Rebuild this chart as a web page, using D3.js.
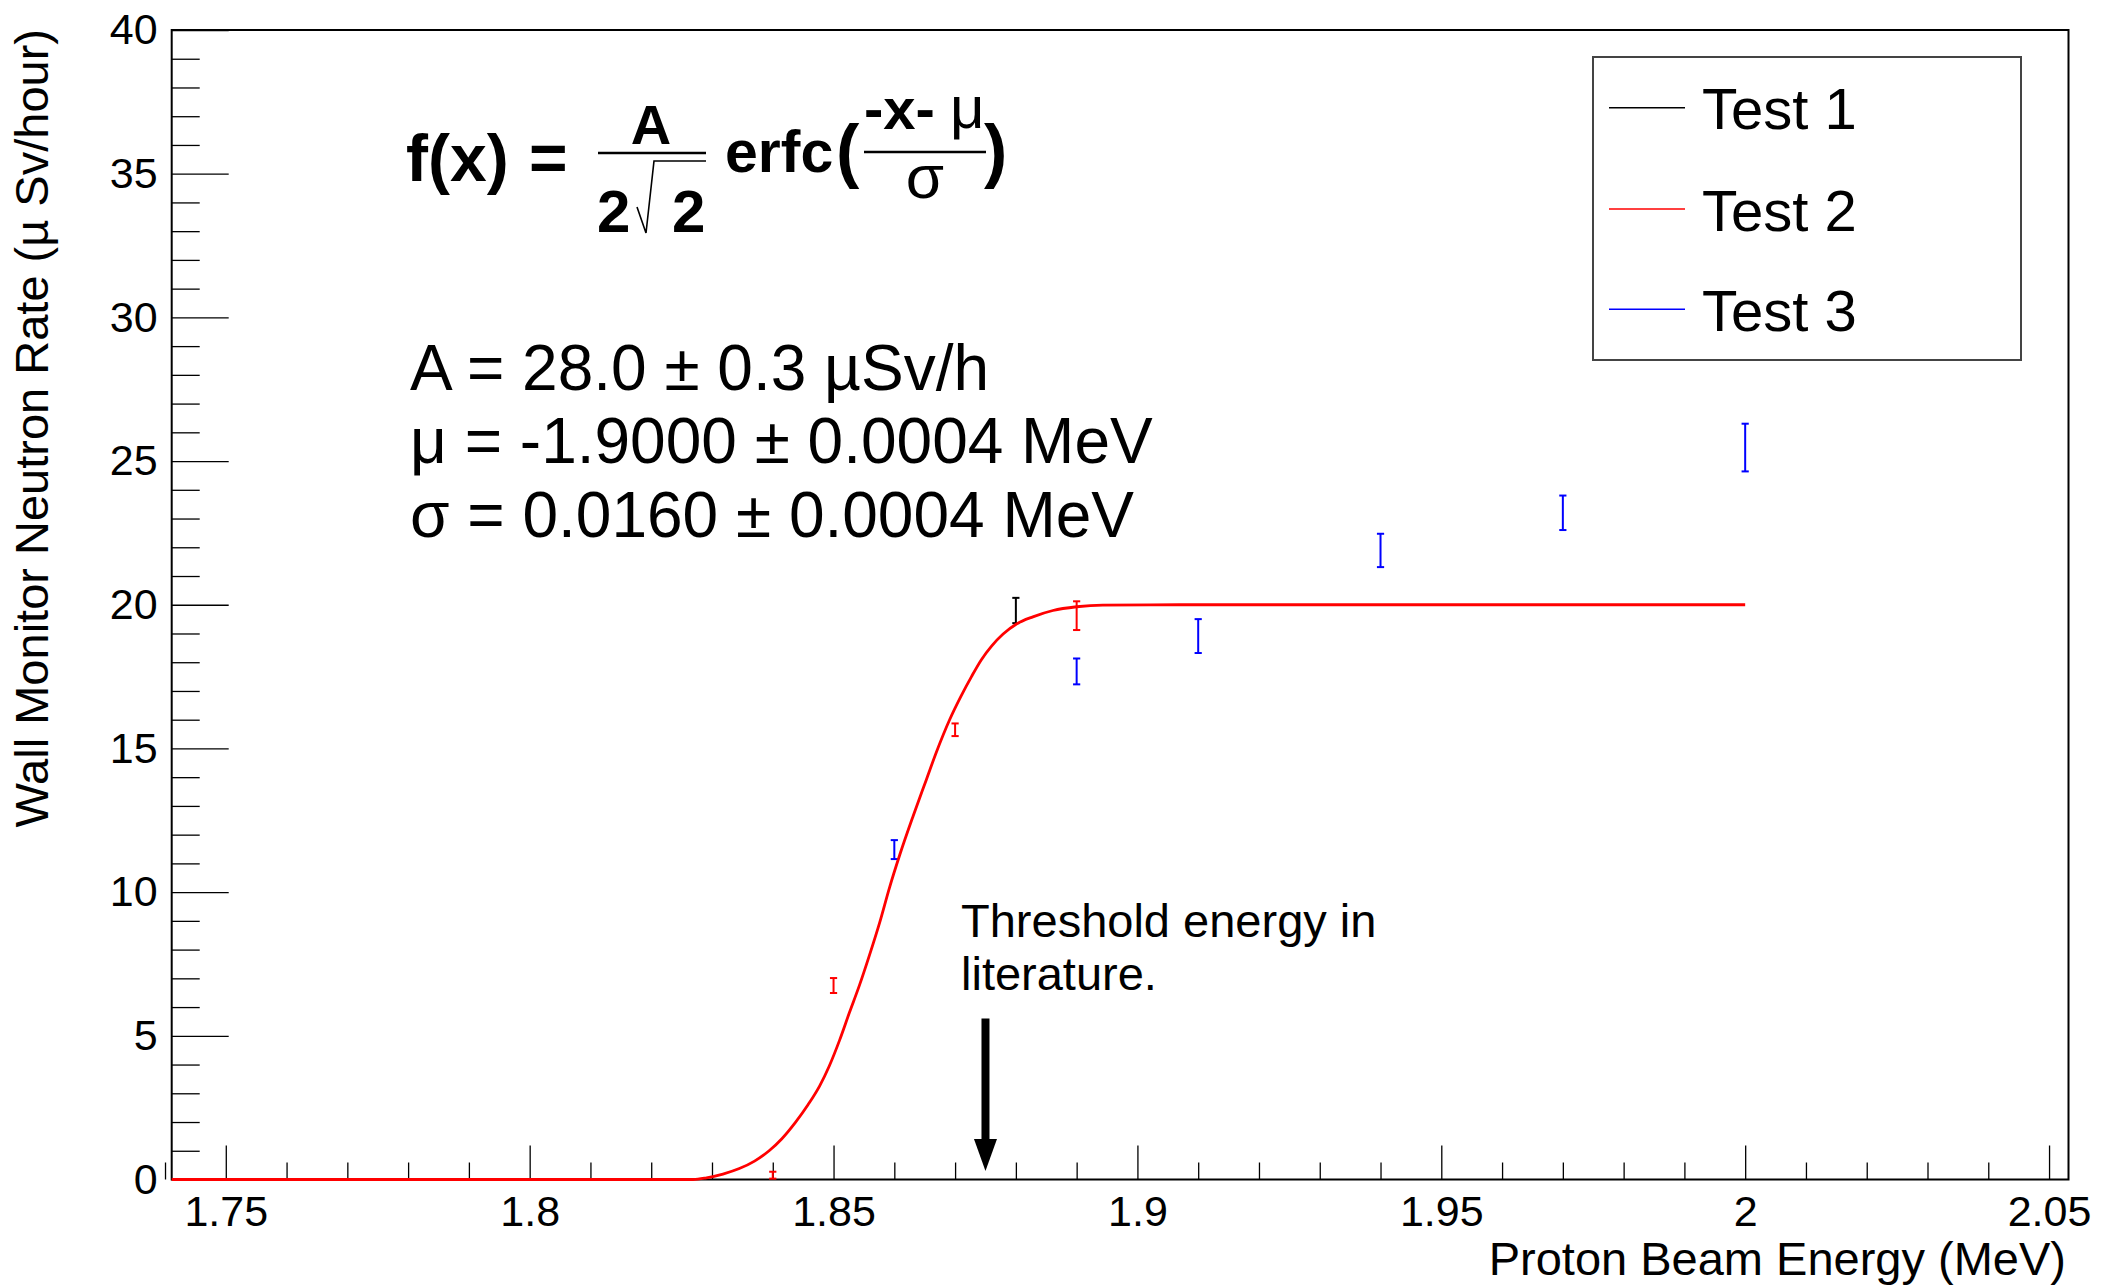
<!DOCTYPE html>
<html>
<head>
<meta charset="utf-8">
<script src="https://cdn.jsdelivr.net/npm/d3@7"></script>
<style>
  html, body { margin: 0; padding: 0; background: #fff; }
  svg { display: block; }
  text { font-family: "Liberation Sans", Arial, sans-serif; }
</style>
</head>
<body>
<svg id="chart" width="2106" height="1287"></svg>
<script>
// ---------------- data ----------------
const xTickValues = [1.75, 1.8, 1.85, 1.9, 1.95, 2.0, 2.05];
const xTickLabels = ["1.75", "1.8", "1.85", "1.9", "1.95", "2", "2.05"];
const yTickValues = [0, 5, 10, 15, 20, 25, 30, 35, 40];
const yTickLabels = ["0", "5", "10", "15", "20", "25", "30", "35", "40"];

const seriesNames = ["Test 1", "Test 2", "Test 3"];
const seriesColors = ["#000000", "#ff0000", "#0000ff"];

const test1X = [1.88];
const test1Y = [19.80];
const test1Err = [0.44];

const test2X = [1.84, 1.85, 1.87, 1.89];
const test2Y = [0.15, 6.75, 15.65, 19.62];
const test2Err = [0.12, 0.26, 0.22, 0.50];

const test3X = [1.86, 1.89, 1.91, 1.94, 1.97, 2.00];
const test3Y = [11.48, 17.68, 18.91, 21.89, 23.20, 25.47];
const test3Err = [0.33, 0.45, 0.59, 0.58, 0.60, 0.83];

// fitted curve
const fitX = [1.7411, 1.8269, 1.8291, 1.8318, 1.8345, 1.8370, 1.8394, 1.8415, 1.8437, 1.8458,
              1.8477, 1.8493, 1.8510, 1.8526, 1.8543, 1.8559, 1.8576, 1.8592, 1.8609, 1.8631,
              1.8653, 1.8669, 1.8691, 1.8710, 1.8727, 1.8743, 1.8760, 1.8779, 1.8801, 1.8828,
              1.8861, 1.8900, 1.8943, 1.9069, 2.0000];
const fitY = [0.00, 0.00, 0.06, 0.19, 0.38, 0.64, 1.00, 1.42, 1.98, 2.60,
              3.25, 3.95, 4.85, 5.80, 6.78, 7.80, 8.95, 10.15, 11.30, 12.65,
              13.93, 14.86, 16.00, 16.83, 17.50, 18.08, 18.56, 18.98, 19.33, 19.58,
              19.80, 19.93, 19.99, 20.00, 20.00];

const arrowX = 1.875;
const arrowFromY = 5.6;
const arrowToY = 0.3;

const xTitle = "Proton Beam Energy (MeV)";
const yTitle = "Wall Monitor Neutron Rate (\u00b5 Sv/hour)";
const paramLines = ["A = 28.0 \u00b1 0.3 \u00b5Sv/h",
                    "\u03bc = -1.9000 \u00b1 0.0004 MeV",
                    "\u03c3 = 0.0160 \u00b1 0.0004 MeV"];
const noteLines = ["Threshold energy in", "literature."];

// ---------------- layout ----------------
const svg = d3.select("#chart");
const L = 171.7, R = 2068.5, T = 30, B = 1179.5;

const x = d3.scaleLinear().domain([1.7411, 2.0532]).range([L, R]);
const y = d3.scaleLinear().domain([0, 40]).range([B, T]);

svg.append("rect").attr("width", 2106).attr("height", 1287).attr("fill", "#fff");

// minor x ticks
const xMinor = d3.range(174, 206).map(v => v / 100).filter(v => xTickValues.every(m => Math.abs(m - v) > 1e-6));
svg.append("g").attr("transform", `translate(0,${B})`)
  .call(d3.axisBottom(x).tickValues(xMinor).tickSize(-17).tickFormat(""))
  .call(g => g.select(".domain").remove())
  .call(g => g.selectAll("line").attr("stroke", "#000").attr("stroke-width", 1.3));
// major x ticks
svg.append("g").attr("transform", `translate(0,${B})`)
  .call(d3.axisBottom(x).tickValues(xTickValues).tickSize(-34).tickPadding(16)
        .tickFormat((d, i) => xTickLabels[i]))
  .call(g => g.select(".domain").remove())
  .call(g => g.selectAll("line").attr("stroke", "#000").attr("stroke-width", 1.3))
  .call(g => g.selectAll("text").attr("font-size", 43).attr("fill", "#000")
        .attr("font-family", "Liberation Sans, Arial, sans-serif"));

// minor y ticks
const yMinor = d3.range(0, 41).filter(v => v % 5 !== 0);
svg.append("g").attr("transform", `translate(${L},0)`)
  .call(d3.axisLeft(y).tickValues(yMinor).tickSize(-28).tickFormat(""))
  .call(g => g.select(".domain").remove())
  .call(g => g.selectAll("line").attr("stroke", "#000").attr("stroke-width", 1.3));
// major y ticks
svg.append("g").attr("transform", `translate(${L},0)`)
  .call(d3.axisLeft(y).tickValues(yTickValues).tickSize(-57).tickPadding(14)
        .tickFormat((d, i) => yTickLabels[i]))
  .call(g => g.select(".domain").remove())
  .call(g => g.selectAll("line").attr("stroke", "#000").attr("stroke-width", 1.3))
  .call(g => g.selectAll("text").attr("font-size", 43).attr("fill", "#000")
        .attr("font-family", "Liberation Sans, Arial, sans-serif"));

// frame
svg.append("rect").attr("x", L).attr("y", T).attr("width", R - L).attr("height", B - T)
  .attr("fill", "none").attr("stroke", "#000").attr("stroke-width", 2);

// axis titles
svg.append("text").attr("x", 2066).attr("y", 1275).attr("text-anchor", "end")
  .attr("font-size", 47).attr("fill", "#000").text(xTitle);
svg.append("text").attr("transform", `translate(48,${T - 1}) rotate(-90)`).attr("text-anchor", "end")
  .attr("font-size", 47).attr("fill", "#000").text(yTitle);

// ---------------- series ----------------
const series = [
  {name: seriesNames[0], color: seriesColors[0], xs: test1X, ys: test1Y, es: test1Err},
  {name: seriesNames[1], color: seriesColors[1], xs: test2X, ys: test2Y, es: test2Err},
  {name: seriesNames[2], color: seriesColors[2], xs: test3X, ys: test3Y, es: test3Err}
];

const capW = 3.6;
series.forEach(s => {
  const pts = s.xs.map((xv, i) => ({x: xv, y: s.ys[i], e: s.es[i]}));
  const g = svg.append("g").attr("stroke", s.color).attr("stroke-width", 2).attr("fill", "none");
  g.selectAll("line.bar").data(pts).join("line").attr("class", "bar")
    .attr("x1", d => x(d.x)).attr("x2", d => x(d.x))
    .attr("y1", d => y(d.y - d.e)).attr("y2", d => y(d.y + d.e));
  g.selectAll("line.capT").data(pts).join("line").attr("class", "capT")
    .attr("x1", d => x(d.x) - capW).attr("x2", d => x(d.x) + capW)
    .attr("y1", d => y(d.y + d.e)).attr("y2", d => y(d.y + d.e));
  g.selectAll("line.capB").data(pts).join("line").attr("class", "capB")
    .attr("x1", d => x(d.x) - capW).attr("x2", d => x(d.x) + capW)
    .attr("y1", d => y(d.y - d.e)).attr("y2", d => y(d.y - d.e));
});

// fit curve
const fitPts = fitX.map((xv, i) => [xv, fitY[i]]);
svg.append("path").datum(fitPts)
  .attr("d", d3.line().x(d => x(d[0])).y(d => y(d[1])).curve(d3.curveMonotoneX))
  .attr("fill", "none").attr("stroke", "#ff0000").attr("stroke-width", 2.8);

// arrow
const ax = x(arrowX), ay0 = y(arrowFromY), ay1 = y(arrowToY);
svg.append("line").attr("x1", ax).attr("x2", ax).attr("y1", ay0).attr("y2", ay1 - 30)
  .attr("stroke", "#000").attr("stroke-width", 8);
svg.append("path")
  .attr("d", `M${ax - 11.5},${ay1 - 32} L${ax + 11.5},${ay1 - 32} L${ax},${ay1} Z`)
  .attr("fill", "#000");

// note text
svg.append("g").selectAll("text").data(noteLines).join("text")
  .attr("x", 961).attr("y", (d, i) => 937 + i * 53.3)
  .attr("font-size", 47).attr("fill", "#000").text(d => d);

// parameter text
svg.append("g").selectAll("text").data(paramLines).join("text")
  .attr("x", 410).attr("y", (d, i) => 390 + i * 73.3)
  .attr("font-family", "Noto Sans, Open Sans, sans-serif")
  .attr("font-size", 64).attr("fill", "#000").text(d => d);

// formula
const fg = svg.append("g").attr("fill", "#000").attr("font-weight", "bold");
fg.append("text").attr("x", 406).attr("y", 181).attr("font-size", 66).text("f(x)");
fg.append("text").attr("x", 529).attr("y", 181).attr("font-size", 66).text("=");
fg.append("text").attr("x", 651).attr("y", 144).attr("font-size", 56).attr("text-anchor", "middle").text("A");
fg.append("line").attr("x1", 598).attr("x2", 706).attr("y1", 153).attr("y2", 153)
  .attr("stroke", "#000").attr("stroke-width", 2.5);
fg.append("text").attr("x", 597).attr("y", 232).attr("font-size", 60).text("2");
fg.append("path").attr("d", "M637,207 L646,233 L654,161 L706,161")
  .attr("fill", "none").attr("stroke", "#000").attr("stroke-width", 1.6);
fg.append("text").attr("x", 672).attr("y", 232).attr("font-size", 60).text("2");
fg.append("text").attr("x", 725).attr("y", 172).attr("font-size", 59).text("erfc");
fg.append("text").attr("x", 836).attr("y", 174).attr("font-size", 70).text("(");
fg.append("text").attr("x", 864).attr("y", 129).attr("font-size", 58).text("-x-");
fg.append("text").attr("x", 950).attr("y", 128).attr("font-size", 60).attr("font-weight", "normal")
  .attr("font-family", "Liberation Serif, serif").text("\u03bc");
fg.append("line").attr("x1", 864).attr("x2", 986).attr("y1", 152).attr("y2", 152)
  .attr("stroke", "#000").attr("stroke-width", 2.5);
fg.append("text").attr("x", 925).attr("y", 198).attr("font-size", 62).attr("font-weight", "normal")
  .attr("text-anchor", "middle").attr("font-family", "Liberation Serif, serif").text("\u03c3");
fg.append("text").attr("x", 984).attr("y", 174).attr("font-size", 70).text(")");

// legend
const lg = svg.append("g");
lg.append("rect").attr("x", 1593).attr("y", 57).attr("width", 428).attr("height", 303)
  .attr("fill", "#fff").attr("stroke", "#444").attr("stroke-width", 2);
const legendY = [107.7, 209, 309.3];
series.forEach((s, i) => {
  lg.append("line").attr("x1", 1609).attr("x2", 1685).attr("y1", legendY[i]).attr("y2", legendY[i])
    .attr("stroke", s.color).attr("stroke-width", 1.6);
  lg.append("text").attr("x", 1702).attr("y", legendY[i] + 21.5).attr("font-size", 58)
    .attr("fill", "#000").text(s.name);
});
</script>
</body>
</html>
